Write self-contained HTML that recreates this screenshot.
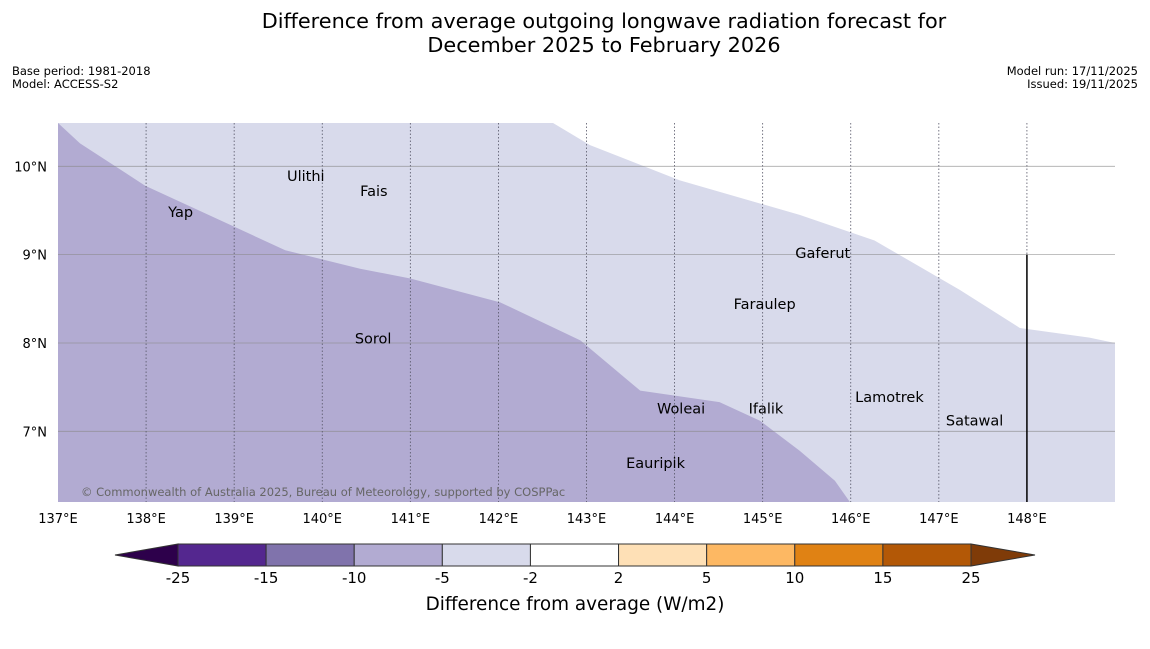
<!DOCTYPE html>
<html><head><meta charset="utf-8"><style>
body{margin:0;background:#fff;font-family:"Liberation Sans","DejaVu Sans",sans-serif}
svg text{font-family:"DejaVu Sans","Liberation Sans",sans-serif}
</style></head><body>
<svg id="c" width="1150" height="644" xmlns="http://www.w3.org/2000/svg">
<text x="604" y="28" font-size="20.8" text-anchor="middle">Difference from average outgoing longwave radiation forecast for</text>
<text x="604" y="52" font-size="20.8" text-anchor="middle">December 2025 to February 2026</text>
<text x="12" y="75" font-size="11.5">Base period: 1981-2018</text>
<text x="12" y="88" font-size="11.5">Model: ACCESS-S2</text>
<text x="1138" y="75" font-size="11.5" text-anchor="end">Model run: 17/11/2025</text>
<text x="1138" y="88" font-size="11.5" text-anchor="end">Issued: 19/11/2025</text>
<g id="map"></g>
<g id="cbar"></g>
<text x="575" y="610" font-size="18.4" text-anchor="middle">Difference from average (W/m2)</text>
</svg>
<script>
const lonTicks=[137,138,139,140,141,142,143,144,145,146,147,148];
const latTicks=[7,8,9,10];
const darkLon=[137,137.25,137.99,139.58,140.43,141.0,142.02,142.93,143.61,144.51,144.97,145.42,145.82,145.99];
const darkLat=[10.49,10.26,9.78,9.05,8.84,8.73,8.46,8.03,7.46,7.33,7.12,6.78,6.44,6.2];
const whiteLon=[142.62,143.04,144.06,145.42,146.27,147.24,147.92,148.71,149];
const whiteLat=[10.49,10.24,9.84,9.45,9.16,8.6,8.17,8.06,8.0];
const placeNames=["Yap","Ulithi","Fais","Gaferut","Faraulep","Sorol","Woleai","Ifalik","Lamotrek","Satawal","Eauripik"];
const placeLon=[138.25,139.6,140.43,145.37,144.67,140.37,143.8,144.84,146.05,147.08,143.45];
const placeLat=[9.48,9.89,9.72,9.02,8.44,8.05,7.26,7.26,7.39,7.12,6.64];
const levels=[-25,-15,-10,-5,-2,2,5,10,15,25];
const levelColors=["#54278f","#8073ac","#b2abd2","#d8daeb","#ffffff","#fee0b6","#fdb863","#e08214","#b35806"];
const NS="http://www.w3.org/2000/svg";
const X0=58,X1=1115,Y0=123,Y1=502,LON0=137,LON1=149,LAT0=6.2,LAT1=10.49;
const xs=l=>X0+(l-LON0)/(LON1-LON0)*(X1-X0);
const ys=l=>Y1-(l-LAT0)/(LAT1-LAT0)*(Y1-Y0);
function mk(t,a,p){const e=document.createElementNS(NS,t);for(const k in a)e.setAttribute(k,a[k]);p.appendChild(e);return e;}
const g=document.getElementById('map');
let r=mk('rect',{x:X0,y:Y0,width:X1-X0,height:Y1-Y0,fill:'#d8daeb'},g);


let d='M'+darkLon.map((v,i)=>xs(v)+','+ys(darkLat[i])).join(' L')+' L'+X0+','+Y1+' Z';
let p=mk('path',{d:d,fill:'#b2abd2'},g);


d='M'+whiteLon.map((v,i)=>xs(v)+','+ys(whiteLat[i])).join(' L')+' L'+X1+','+Y0+' Z';
p=mk('path',{d:d,fill:'#ffffff'},g);


latTicks.forEach(l=>{
 let ln=mk('line',{x1:X0,x2:X1,y1:ys(l),y2:ys(l),stroke:'#888','stroke-width':0.8,opacity:0.7},g);
 
 
 let t=mk('text',{x:47,y:ys(l)+5,'font-size':13,'text-anchor':'end'},g);t.textContent=l+'°N';
 
 
});
lonTicks.forEach(l=>{
 if(l>137){let ln=mk('line',{x1:xs(l),x2:xs(l),y1:Y0,y2:Y1,stroke:'#556','stroke-width':0.8,'stroke-dasharray':'1.5,2'},g);
 
 }
 let t=mk('text',{x:xs(l),y:523,'font-size':13,'text-anchor':'middle'},g);t.textContent=l+'°E';
 
 
});
let vl=mk('line',{x1:xs(148),x2:xs(148),y1:ys(9),y2:Y1,stroke:'#000','stroke-width':1.5},g);


placeNames.forEach((n,i)=>{
 let t=mk('text',{x:xs(placeLon[i]),y:ys(placeLat[i])+5,'font-size':14.5},g);t.textContent=n;
 
 
});
let ct=mk('text',{x:81,y:496,'font-size':11.5,fill:'#666'},g);ct.textContent='© Commonwealth of Australia 2025, Bureau of Meteorology, supported by COSPPac';


const cb=document.getElementById('cbar');
const CX0=178,CX1=971,CY=544,CH=22,bw=(CX1-CX0)/(levels.length-1);
let tl=mk('polygon',{points:`115,555 ${CX0},${CY} ${CX0},${CY+CH}`,fill:'#2d004b',stroke:'#333'},cb);


let tr=mk('polygon',{points:`1035,555 ${CX1},${CY} ${CX1},${CY+CH}`,fill:'#7f3b08',stroke:'#333'},cb);


levelColors.forEach((c,i)=>{
 let b=mk('rect',{x:CX0+i*bw,y:CY,width:bw,height:CH,fill:c,stroke:'#333','stroke-width':1},cb);
 
 
});
levels.forEach((v,i)=>{
 let t=mk('text',{x:CX0+i*bw,y:583,'font-size':15,'text-anchor':'middle'},cb);t.textContent=v;
 
 
});
</script>
</body></html>
